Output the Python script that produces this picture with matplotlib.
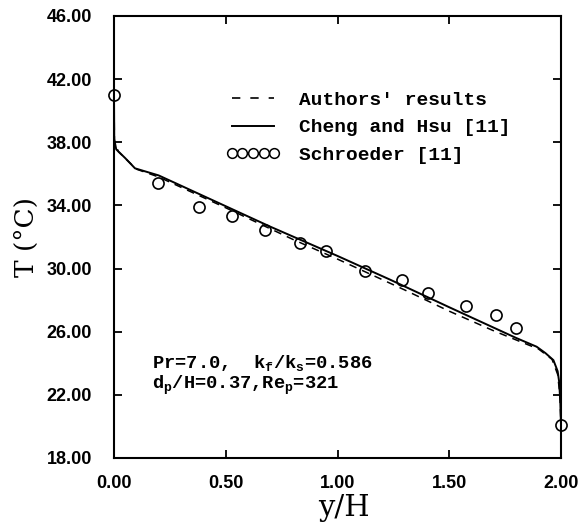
import matplotlib
matplotlib.use("Agg")
import matplotlib.pyplot as plt
from matplotlib.lines import Line2D

# ── data ─────────────────────────────────────────────────────────────────────
# Schroeder [11] measurements
x_schroeder = [0.0, 0.195, 0.38, 0.53, 0.676, 0.83, 0.95, 1.123, 1.287,
               1.403, 1.574, 1.708, 1.799, 2.0]
T_schroeder = [41.0, 35.4, 33.9, 33.3, 32.45, 31.65, 31.1, 29.85, 29.3,
               28.45, 27.6, 27.05, 26.25, 20.1]

# Cheng and Hsu [11] (solid)
x_cheng = [0.0, 0.001, 0.01, 0.05, 0.094, 0.2, 0.4, 0.7, 1.0, 1.235, 1.5,
           1.8, 1.891, 1.93, 1.966, 1.985, 1.992, 1.997, 2.0]
T_cheng = [41.0, 38.2, 37.55, 37.0, 36.35, 35.9, 34.6, 32.65, 30.8, 29.3,
           27.55, 25.6, 25.05, 24.65, 24.2, 23.5, 22.8, 21.5, 20.1]

# Authors' results (dashed)
x_auth = [0.0, 0.002, 0.02, 0.1, 0.2, 0.5, 0.8, 1.0, 1.3, 1.5, 1.7, 1.9,
          1.96, 1.985, 1.995, 2.0]
T_auth = [41.0, 38.0, 37.4, 36.3, 35.8, 33.85, 31.85, 30.6, 28.65, 27.3,
          26.05, 24.9, 24.25, 23.3, 22.0, 20.1]

x_ticks = [0.0, 0.5, 1.0, 1.5, 2.0]
y_ticks = [18, 22, 26, 30, 34, 38, 42, 46]

mono = "Liberation Mono"
plt.rcParams["mathtext.default"] = "regular"

fig = plt.figure(figsize=(5.78, 5.24), dpi=100)
ax = fig.add_axes([114 / 578, 1 - 458 / 524, 447 / 578, 442 / 524])

ax.plot(x_auth, T_auth, color="black", lw=1.1, ls=(0, (5, 4)))
ax.plot(x_cheng, T_cheng, color="black", lw=1.4)
ax.plot(x_schroeder, T_schroeder, ls="none", marker="o", ms=8,
        mfc="none", mec="black", mew=1.2, clip_on=False)

ax.set_xlim(0, 2)
ax.set_ylim(18, 46)
ax.set_xticks(x_ticks)
ax.set_yticks(y_ticks)
ax.set_xticklabels([f"{v:.2f}" for v in x_ticks])
ax.set_yticklabels([f"{v:.2f}" for v in y_ticks])

for lab in ax.get_xticklabels() + ax.get_yticklabels():
    lab.set_fontfamily("Liberation Sans")
    lab.set_fontweight("bold")
    lab.set_fontsize(13)

ax.tick_params(direction="in", length=6, width=1.3, top=True, right=True)
ax.tick_params(axis="y", pad=16)
ax.tick_params(axis="x", pad=12)
for sp in ax.spines.values():
    sp.set_linewidth(1.5)

ax.set_xlabel("y/H", family="DejaVu Serif", fontsize=21)
ax.set_ylabel("T (°C)", family="DejaVu Serif", fontsize=19)
ax.xaxis.set_label_coords(0.515, -0.082)
ax.yaxis.set_label_coords(-0.168, 0.50)

handles = [
    Line2D([], [], color="black", lw=1.2, ls=(0, (5, 6))),
    Line2D([], [], color="black", lw=1.4),
    Line2D([], [], ls="none", marker="o", ms=7, mfc="none", mec="black",
           mew=1.1),
]
labels = ["Authors' results", "Cheng and Hsu [11]", "Schroeder [11]"]
ax.legend(handles, labels, loc="upper left", bbox_to_anchor=(0.25, 0.83),
          frameon=False, numpoints=5, handlelength=2.8, handletextpad=0.95,
          labelspacing=0.52, borderpad=0, borderaxespad=0,
          prop=dict(family=mono, weight="bold", size=14))

ax.text(0.17, 24.0, "Pr=7.0,  k$_f$/k$_s$=0.586", family=mono,
        weight="bold", fontsize=13.5, va="center")
ax.text(0.17, 22.6, "d$_p$/H=0.37,Re$_p$=321", family=mono,
        weight="bold", fontsize=13.5, va="center")

fig.savefig("out.png", dpi=100)
